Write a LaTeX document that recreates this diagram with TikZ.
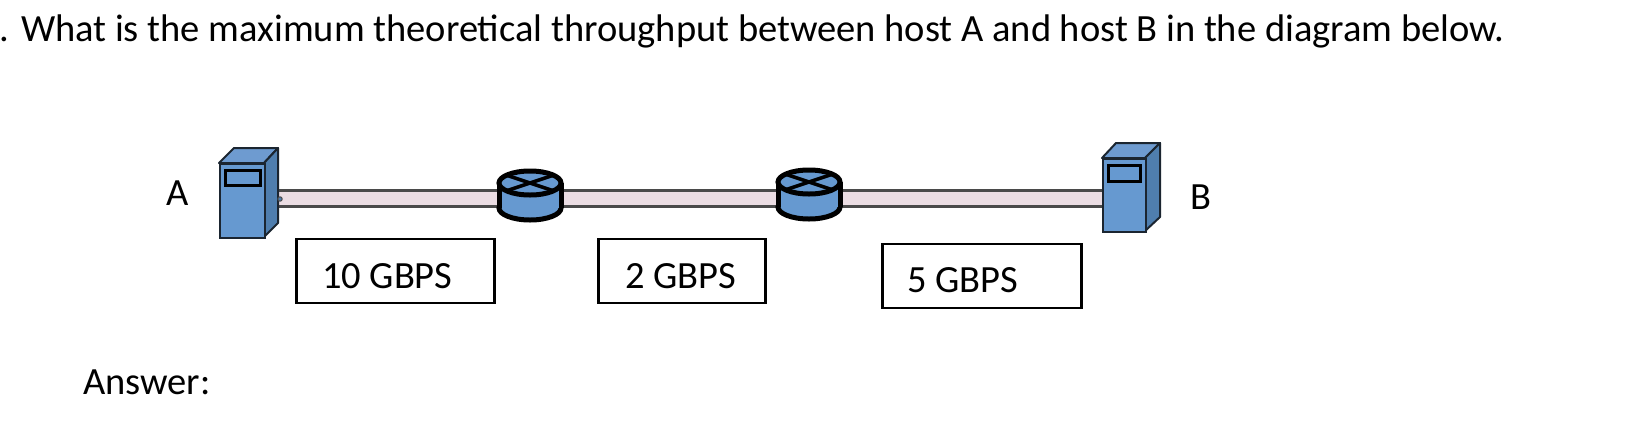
\documentclass[tikz,border=0pt]{standalone}
\usepackage{fontspec}
\setmainfont{Carlito}
\usetikzlibrary{backgrounds,shapes.geometric}
\definecolor{srvblue}{HTML}{6699D0}
\definecolor{srvtop}{HTML}{6E9BD0}
\definecolor{srvside}{HTML}{4F7EAE}
\definecolor{linkpink}{HTML}{EBDDE3}
\definecolor{linkedge}{HTML}{4A4A4A}
\definecolor{outline}{HTML}{1B2530}
\tikzset{
  txt/.style={inner sep=0pt,outer sep=0pt,font=\fontsize{38.5}{38.5}\selectfont,text=black},
  lbl/.style={txt,anchor=base west},
  ratebox/.style={draw=black,line width=2.5pt,fill=white,anchor=north west,inner sep=0pt},
  front/.style={draw=outline,line width=2pt,fill=srvblue,anchor=north west,inner sep=0pt},
  routerspot/.style={ellipse,minimum width=66pt,minimum height=50pt,inner sep=0pt,draw=none},
  link/.style={line width=3pt,draw=linkedge,double=linkpink,double distance=13pt},
  pics/router/.style={code={
    \fill[srvblue,draw=black,line width=5pt] (0,13) ellipse [x radius=31,y radius=12];
    \fill[srvblue] (-31,-12) rectangle (31,13);
    \draw[black,line width=5pt] (-31,-12) -- (-31,13) (31,-12) -- (31,13);
    \fill[srvblue,draw=black,line width=5pt] (0,-12) ellipse [x radius=31,y radius=12];
    \draw[black,line width=3.5pt] (-24,-20) -- (24,-4) (24,-20) -- (-24,-4);
  }}
}
\begin{document}
\begin{tikzpicture}[x=1pt,y=-1pt]
\useasboundingbox (0,0) rectangle (1628,424);

% Servers
\fill[srvtop,draw=outline,line width=2pt,line join=round] (219,163) -- (234,148) -- (278,148) -- (264,163) -- cycle;
\fill[srvside,draw=outline,line width=2pt,line join=round] (264,163) -- (278,148) -- (278,223) -- (264,237) -- cycle;
\node[front,minimum width=45pt,minimum height=74pt] (hostA) at (219,163) {};
\node[front,line width=2.5pt,draw=black,minimum width=35pt,minimum height=15pt] (winA) at (224,169) {};

\fill[srvtop,draw=outline,line width=2pt,line join=round] (1102,158) -- (1116,143) -- (1160,143) -- (1145,158) -- cycle;
\fill[srvside,draw=outline,line width=2pt,line join=round] (1145,158) -- (1160,143) -- (1160,217) -- (1145,231) -- cycle;
\node[front,minimum width=43pt,minimum height=73pt] (hostB) at (1102,158) {};
\node[front,line width=2.5pt,draw=black,minimum width=32pt,minimum height=16pt] (winB) at (1107,164) {};

% Routers
\node[routerspot] (r1) at (530,195) {};
\pic at (530,195) {router};
\node[routerspot] (r2) at (809,194) {};
\pic at (809,194) {router};

% Links
\coordinate (aport) at (278,198);
\coordinate (bport) at (1102,198);
\begin{pgfonlayer}{background}
\draw[link] (aport) -- (r1.center |- aport);
\draw[link] (r1.center |- aport) -- (r2.center |- aport);
\draw[link] (r2.center |- aport) -- (bport);
\end{pgfonlayer}
\fill[srvside,draw=linkedge,line width=1pt] (280,199) circle (2.2);

% Labels
\node[lbl] (dot) at (-1,41) {.};
\node[lbl] (title) at (21,41) {What is the maximum theoretical throughput between host A and host B in the diagram below.};
\node[lbl] (la) at (166,205) {A};
\node[lbl] (lb) at (1190,209) {B};
\node[lbl] (ans) at (83,394) {Answer:};

\node[ratebox,minimum width=198pt,minimum height=64pt] (b1) at (295,237.5) {};
\node[lbl] at (322,288) {10 GBPS};
\node[ratebox,minimum width=167pt,minimum height=64pt] (b2) at (597,237.5) {};
\node[lbl] at (625,288) {2 GBPS};
\node[ratebox,minimum width=199pt,minimum height=64pt] (b3) at (881,242.5) {};
\node[lbl] at (907,292) {5 GBPS};
\end{tikzpicture}
\end{document}
